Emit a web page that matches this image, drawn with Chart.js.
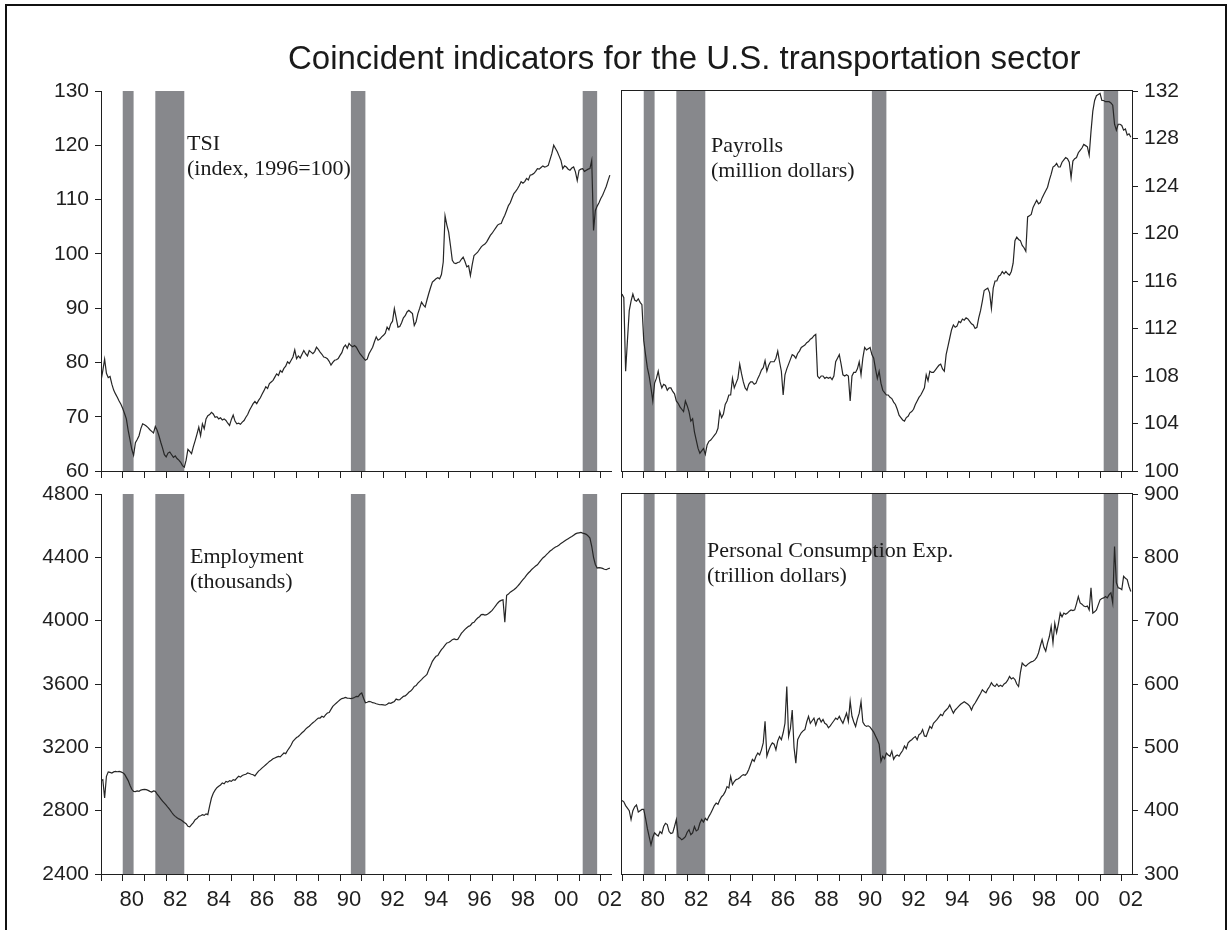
<!DOCTYPE html>
<html lang="en">
<head>
<meta charset="UTF-8">
<title>Coincident indicators for the U.S. transportation sector</title>
<style>
    body {
        margin: 0;
        width: 1231px;
        height: 930px;
        overflow: hidden;
        position: relative;
        background: #ffffff;
        font-family: "Liberation Sans", Arial, sans-serif;
    }
    .frame {
        position: absolute;
        left: 5px;
        top: 4px;
        width: 1222px;
        height: 960px;
        box-sizing: border-box;
        border: 2px solid #111;
        border-bottom: none;
    }
    canvas {
        position: absolute;
        left: 0;
        top: 0;
    }
    .title {
        position: absolute;
        left: 288px;
        top: 41px;
        font-size: 33px;
        line-height: 33px;
        white-space: nowrap;
        color: #1a1a1a;
    }
    .note {
        position: absolute;
        font-family: "Liberation Serif", "Times New Roman", serif;
        font-size: 22px;
        line-height: 25px;
        white-space: nowrap;
        color: #1a1a1a;
    }
</style>
<script src="https://cdn.jsdelivr.net/npm/chart.js"></script>
</head>
<body>
<div class="frame"></div>
<canvas id="tsiChart" width="1231" height="930"></canvas>
<canvas id="payChart" width="1231" height="930"></canvas>
<canvas id="empChart" width="1231" height="930"></canvas>
<canvas id="pceChart" width="1231" height="930"></canvas>
<div class="title">Coincident indicators for the U.S. transportation sector</div>
<div class="note" style="left:187px; top:130px;">TSI<br>(index, 1996=100)</div>
<div class="note" style="left:711px; top:132px;">Payrolls<br>(million dollars)</div>
<div class="note" style="left:190px; top:543px;">Employment<br>(thousands)</div>
<div class="note" style="left:707px; top:537px;">Personal Consumption Exp.<br>(trillion dollars)</div>
<script>
    // monthly values, January 1979 to June 2002, one row per year
    const startYear = 1979;

    const tsi = [
        76.6, 78.5, 80.6, 78.0, 77.2, 77.4, 76.0, 74.9, 74.2, 73.6, 72.9, 72.3,
        71.5, 70.6, 69.6, 67.5, 65.8, 64.0, 62.9, 65.2, 65.8, 66.5, 67.8, 68.7,
        68.5, 68.3, 68.0, 67.6, 67.3, 67.0, 68.2, 67.5, 66.5, 65.3, 64.2, 63.0,
        62.6, 63.3, 63.5, 63.0, 62.5, 62.8, 62.3, 62.0, 61.6, 61.0, 60.7, 62.0,
        64.0, 63.6, 63.2, 64.5, 65.6, 66.8, 68.1, 66.5, 68.7, 67.8, 69.6, 70.2,
        70.4, 70.8, 70.5, 69.9, 70.0, 69.6, 69.8, 69.4, 69.6, 69.3, 68.8, 68.4,
        69.5, 70.3, 69.2, 68.7, 68.8, 68.6, 69.0, 69.3, 69.9, 70.4, 71.2, 71.8,
        72.4, 72.8, 72.4, 73.0, 73.5, 74.2, 74.8, 75.5, 75.2, 76.1, 76.4, 76.7,
        77.3, 77.9, 77.6, 78.5, 78.2, 78.9, 79.3, 80.1, 79.8, 80.4, 81.0, 82.3,
        80.7, 81.2, 80.8, 81.5, 82.2, 81.6, 81.2, 82.2, 81.9, 81.6, 82.0, 82.8,
        82.4, 81.9, 81.5, 81.0, 80.9, 80.7, 80.2, 79.5, 80.0, 80.4, 80.5, 80.7,
        81.3, 81.8, 82.8, 83.2, 82.6, 83.5, 83.1, 82.9, 83.1, 82.8, 82.2, 81.6,
        81.2, 80.8, 80.4, 80.6, 81.6, 82.2, 82.8, 83.8, 84.7, 84.1, 84.3, 84.7,
        85.0, 85.4, 86.5, 86.0, 87.1, 87.6, 89.9, 88.2, 86.5, 86.6, 87.3, 88.2,
        88.6, 89.3, 89.6, 89.3, 89.0, 86.8, 87.5, 89.0, 90.0, 91.1, 90.6, 90.2,
        91.5, 92.7, 93.8, 94.8, 95.1, 95.4, 95.6, 95.4, 96.2, 98.5, 107.0, 105.3,
        104.0, 101.5, 98.8, 98.3, 98.2, 98.4, 98.5, 99.0, 99.4, 98.6, 97.6, 97.8,
        96.0, 98.0, 99.7, 100.0, 100.3, 100.8, 101.3, 101.6, 101.8, 102.2, 102.8, 103.4,
        103.8, 104.3, 104.8, 105.3, 105.5, 105.6, 106.4, 107.1, 108.0, 108.9, 109.4, 110.3,
        111.1, 111.5, 112.0, 112.6, 113.3, 113.0, 113.3, 113.9, 113.6, 114.5, 114.6, 114.8,
        115.2, 115.7, 115.6, 115.9, 116.2, 116.0, 116.1, 116.3, 117.4, 118.5, 120.0, 119.4,
        118.8, 118.0, 117.2, 115.7, 116.2, 116.0, 115.6, 115.4, 115.8, 116.0, 115.1, 113.5,
        115.4, 115.6, 115.7, 115.2, 115.4, 115.6, 115.7, 117.2, 104.3, 108.0, 108.8, 109.4,
        110.2, 110.8, 111.6, 112.4, 113.5, 114.5
    ];

    const payrolls = [
        114.9, 114.6, 108.4, 111.0, 113.5, 114.3, 114.9, 114.4, 114.3, 114.5, 114.2, 114.0,
        111.0, 109.8, 108.7, 108.0, 107.0, 105.9, 107.4, 107.8, 108.4, 107.5, 107.0, 107.3,
        107.2, 106.8, 107.0, 107.0, 106.7, 106.5, 105.9, 105.7, 105.4, 105.2, 105.0, 105.9,
        105.5, 105.0, 104.2, 104.4, 103.3, 102.6, 101.9, 101.5, 101.7, 101.9, 101.4, 102.2,
        102.5, 102.6, 102.8, 103.0, 103.2, 103.6, 105.0, 104.5, 104.8, 105.6, 105.9, 106.4,
        106.4, 107.8, 107.0, 107.4, 107.8, 109.0, 108.2, 107.5, 107.0, 106.8, 107.3, 107.5,
        107.5, 107.3, 107.4, 107.8, 108.1, 108.5, 108.7, 109.3, 108.4, 108.9, 109.2, 109.2,
        109.2, 109.5, 110.1, 109.2, 108.4, 106.4, 108.1, 108.6, 109.0, 109.4, 109.8, 109.7,
        109.5, 109.9, 110.1, 110.4, 110.5, 110.6, 110.8, 110.9, 111.1, 111.2, 111.4, 111.5,
        108.0, 107.8, 108.0, 108.0, 107.8, 107.9, 107.8, 107.9, 107.7, 108.0, 109.2, 109.5,
        109.8, 109.0, 108.1, 108.0, 108.1, 108.0, 105.9, 108.0, 108.3, 108.3, 108.6, 109.2,
        108.1, 109.5, 110.4, 110.2, 110.3, 110.4, 109.8, 109.5, 108.6, 107.8, 108.4, 107.4,
        106.8, 106.6, 106.4, 106.4, 106.2, 106.1, 105.8, 105.6, 105.2, 104.7, 104.5, 104.3,
        104.2, 104.5, 104.6, 104.9, 105.0, 105.2, 105.6, 105.9, 106.2, 106.4, 106.7, 107.0,
        108.1, 107.6, 108.4, 108.3, 108.3, 108.5, 108.7, 108.9, 109.0, 108.6, 108.4, 109.8,
        110.5, 111.2, 111.9, 112.3, 112.1, 112.2, 112.6, 112.5, 112.8, 112.7, 112.9, 112.8,
        112.6, 112.4, 112.3, 112.0, 112.1, 112.9, 113.5, 114.3, 115.2, 115.3, 115.4, 115.0,
        113.7, 115.4, 116.0, 116.0, 116.4, 116.5, 116.8, 116.6, 116.8, 116.6, 116.5, 116.8,
        117.5, 119.4, 119.7, 119.5, 119.4, 119.0, 118.8, 118.5, 121.4, 121.5, 121.6, 122.2,
        122.5, 122.8, 122.5, 122.6, 123.0, 123.3, 123.6, 123.9, 124.5, 125.0, 125.6, 125.7,
        125.9, 125.6, 125.6, 126.0, 126.2, 126.4, 126.3, 126.0, 124.7, 126.1, 126.3, 126.4,
        126.8, 127.0, 127.2, 127.5, 127.4, 127.3, 126.6, 128.6, 130.3, 131.2, 131.6, 131.7,
        131.8, 131.2, 131.2, 131.1, 131.1, 131.1, 131.0, 130.8, 129.2, 128.7, 129.2, 129.2,
        129.1, 128.7, 128.8, 128.3, 128.4, 128.1
    ];

    const employment = [
        2990, 2996, 2880, 3017, 3045, 3042, 3038, 3045, 3048, 3046, 3048, 3045,
        3040, 3030, 3010, 2990, 2960, 2935, 2922, 2920, 2925, 2922, 2930, 2933,
        2935, 2933, 2928, 2922, 2918, 2925, 2922, 2905, 2890, 2875, 2860, 2848,
        2835, 2820, 2806, 2790, 2775, 2764, 2755, 2748, 2743, 2735, 2725, 2718,
        2701, 2698, 2712, 2725, 2743, 2750, 2764, 2768, 2775, 2770, 2780, 2775,
        2830, 2880, 2910, 2930, 2945, 2954, 2962, 2975, 2970, 2985, 2980, 2990,
        2985, 2996, 2992, 3005, 3017, 3012, 3022, 3027, 3030, 3038, 3035, 3030,
        3027, 3020, 3035, 3050, 3059, 3070, 3080, 3090, 3100, 3111, 3118, 3128,
        3133, 3138, 3143, 3140, 3152, 3164, 3160, 3180, 3196, 3215, 3238, 3250,
        3262, 3269, 3280, 3292, 3301, 3315, 3325, 3333, 3345, 3355, 3364, 3375,
        3385, 3385, 3396, 3390, 3405, 3417, 3420, 3440, 3459, 3470, 3480, 3490,
        3500, 3508, 3511, 3515, 3511, 3510, 3508, 3511, 3515, 3522, 3520, 3535,
        3543, 3510, 3482, 3485, 3490, 3488, 3482, 3480, 3475, 3472, 3469, 3470,
        3468, 3466, 3472, 3480, 3478, 3484, 3490, 3505, 3500, 3501, 3512, 3522,
        3525, 3535, 3548, 3555, 3568, 3585, 3590, 3605, 3617, 3628, 3640, 3650,
        3660, 3690, 3715, 3743, 3760, 3775, 3780, 3800, 3817, 3830, 3845, 3859,
        3862, 3870, 3880, 3885, 3880, 3882, 3900, 3920, 3932, 3945, 3955, 3964,
        3970, 3985, 3990, 4005, 4017, 4025, 4038, 4040, 4035, 4038, 4045, 4055,
        4065, 4080, 4095, 4110, 4122, 4128, 4132, 3990, 4160, 4168, 4180, 4188,
        4195, 4205, 4217, 4230, 4245, 4259, 4272, 4288, 4301, 4312, 4325, 4335,
        4345, 4353, 4368, 4382, 4396, 4405, 4417, 4428, 4440, 4448, 4458, 4465,
        4470, 4478, 4488, 4495, 4503, 4511, 4518, 4525, 4532, 4540, 4548, 4553,
        4555, 4557, 4553, 4550, 4545, 4535, 4522, 4470, 4400, 4355, 4332, 4335,
        4333, 4330, 4325, 4322, 4328, 4332
    ];

    const pce = [
        416, 414, 408, 404, 400, 386, 400, 406, 409, 398, 400, 402,
        402, 388, 372, 359, 346, 358, 365, 362, 360, 367, 364, 375,
        380, 378, 367, 364, 365, 375, 386, 359, 357, 354, 356, 359,
        366, 370, 362, 365, 375, 368, 370, 380, 386, 382, 388, 385,
        391, 396, 402, 408, 412, 410, 417, 422, 425, 430, 438, 436,
        454, 441, 446, 449, 450, 452, 455, 457, 456, 459, 465, 473,
        481, 478, 486, 491, 488, 496, 507, 541, 486, 495, 502, 507,
        505, 496, 510, 517, 512, 523, 538, 596, 517, 530, 559, 500,
        475, 512, 518, 523, 526, 528, 540, 549, 538, 542, 546, 535,
        544, 546, 540, 544, 538, 536, 531, 534, 538, 542, 546, 544,
        549, 543, 538, 546, 554, 541, 573, 549, 540, 533, 545, 554,
        572, 540, 535, 533, 534, 532, 528, 524, 518, 512, 505, 478,
        486, 482, 491, 488, 486, 494, 481, 486, 488, 486, 491, 495,
        502, 498, 507, 510, 512, 515, 517, 512, 520, 522, 528, 518,
        517, 525, 533, 530, 538, 541, 544, 548, 552, 550, 556, 559,
        562, 567, 560, 554, 559, 562, 565, 568, 570, 572, 570, 568,
        565, 559, 566, 570, 575, 580, 585, 591, 588, 586, 592, 596,
        602, 598, 596, 600, 596, 598, 596, 600, 602, 606, 612, 608,
        610, 607, 600, 596, 618, 633, 630, 628, 631, 633, 635, 636,
        638, 642, 649, 660, 670, 658, 652, 665, 675, 691, 665, 696,
        681, 695, 712, 706, 712, 710, 712, 715, 717, 716, 717, 727,
        738, 728, 726, 723, 722, 723, 717, 752, 712, 714, 717, 725,
        733, 735, 736, 738, 736, 741, 744, 728, 817, 760, 752, 751,
        749, 770, 767, 765, 754, 746
    ];

    const yearTicks = [1979, 1980, 1981, 1982, 1983, 1984, 1985, 1986, 1987, 1988, 1989, 1990,
                       1991, 1992, 1993, 1994, 1995, 1996, 1997, 1998, 1999, 2000, 2001, 2002];
    const tsiTicks = [60, 70, 80, 90, 100, 110, 120, 130];
    const payrollTicks = [100, 104, 108, 112, 116, 120, 124, 128, 132];
    const employmentTicks = [2400, 2800, 3200, 3600, 4000, 4400, 4800];
    const pceTicks = [300, 400, 500, 600, 700, 800, 900];

    // recession periods (start, end) in fractional years
    const recessions = [[1980.0, 1980.5], [1981.5, 1982.833], [1990.5, 1991.167], [2001.167, 2001.833]];

    const sansFont = '"Liberation Sans", Arial, sans-serif';
    const inkColor = '#1f1f1f';

    const recessionPlugin = {
        id: 'recessions',
        beforeDraw(chart) {
            const { ctx, chartArea, scales } = chart;
            ctx.save();
            ctx.fillStyle = '#87888c';
            recessions.forEach(([from, to]) => {
                const x0 = scales.x.getPixelForValue(from);
                const x1 = scales.x.getPixelForValue(to);
                ctx.fillRect(x0, chartArea.top, x1 - x0, chartArea.bottom - chartArea.top);
            });
            ctx.restore();
        }
    };

    const framePlugin = {
        id: 'frame',
        afterDraw(chart) {
            const { ctx, chartArea } = chart;
            ctx.save();
            ctx.strokeStyle = inkColor;
            ctx.lineWidth = 1;
            ctx.strokeRect(Math.round(chartArea.left) - 0.5, Math.round(chartArea.top) - 0.5,
                           Math.round(chartArea.right - chartArea.left) + 1,
                           Math.round(chartArea.bottom - chartArea.top) + 1);
            ctx.restore();
        }
    };

    function makePanel(canvasId, values, yTicks, box) {
        const W = 1231, H = 930, yWidth = 99;
        const padding = box.side === 'left'
            ? { left: box.left - yWidth, right: W - box.right, top: box.top, bottom: 0 }
            : { left: box.left, right: W - box.right - yWidth, top: box.top, bottom: 0 };

        return new Chart(document.getElementById(canvasId), {
            type: 'line',
            data: {
                datasets: [{
                    data: values.map((v, i) => ({ x: startYear + i / 12, y: v })),
                    borderColor: '#262626',
                    borderWidth: 1.2,
                    pointRadius: 0,
                    tension: 0
                }]
            },
            options: {
                responsive: false,
                animation: false,
                events: [],
                layout: { padding: padding },
                plugins: {
                    legend: { display: false },
                    tooltip: { enabled: false }
                },
                scales: {
                    x: {
                        type: 'linear',
                        position: 'bottom',
                        min: 1979,
                        max: 2002.47,
                        afterFit: s => { s.height = H - box.bottom; },
                        afterBuildTicks: s => { s.ticks = yearTicks.map(v => ({ value: v })); },
                        grid: { drawOnChartArea: false, drawTicks: true, tickLength: 7, color: inkColor },
                        border: { display: true, color: inkColor, width: 1 },
                        ticks: {
                            display: box.showYears,
                            autoSkip: false,
                            maxRotation: 0,
                            minRotation: 0,
                            labelOffset: 9,
                            padding: 6,
                            color: inkColor,
                            font: { family: sansFont, size: 22 },
                            callback: v => (v % 2 === 0 ? String(v).slice(2) : '')
                        }
                    },
                    y: {
                        type: 'linear',
                        position: box.side,
                        min: yTicks[0],
                        max: yTicks[yTicks.length - 1],
                        afterFit: s => { s.width = yWidth; },
                        afterBuildTicks: s => { s.ticks = yTicks.map(v => ({ value: v })); },
                        grid: { drawOnChartArea: false, drawTicks: true, tickLength: 6, color: inkColor },
                        border: { display: true, color: inkColor, width: 1 },
                        ticks: {
                            padding: 6,
                            color: inkColor,
                            font: { family: sansFont, size: 21 },
                            callback: v => String(v)
                        }
                    }
                }
            },
            plugins: box.framed ? [recessionPlugin, framePlugin] : [recessionPlugin]
        });
    }

    makePanel('tsiChart', tsi, tsiTicks,
        { side: 'left', left: 101, right: 611, top: 91, bottom: 471, showYears: false, framed: false });
    makePanel('payChart', payrolls, payrollTicks,
        { side: 'right', left: 622, right: 1132, top: 91, bottom: 471, showYears: false, framed: true });
    makePanel('empChart', employment, employmentTicks,
        { side: 'left', left: 101, right: 611, top: 494, bottom: 874, showYears: true, framed: false });
    makePanel('pceChart', pce, pceTicks,
        { side: 'right', left: 622, right: 1132, top: 494, bottom: 874, showYears: true, framed: true });
</script>
</body>
</html>
